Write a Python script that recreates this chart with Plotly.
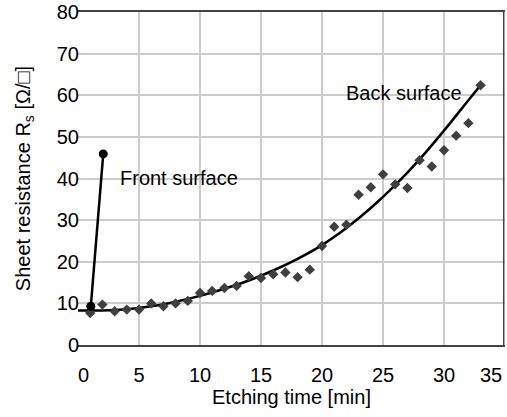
import plotly.graph_objects as go

# Back surface measurements
back_x = [1, 2, 3, 4, 5, 6, 7, 8, 9, 10, 11, 12, 13, 14, 15, 16, 17, 18, 19, 20,
          21, 22, 23, 24, 25, 26, 27, 28, 29, 30, 31, 32, 33]
back_y = [7.7, 9.7, 8.1, 8.5, 8.5, 10.0, 9.3, 10.0, 10.6, 12.5, 13.0, 13.7, 14.2, 16.5,
          16.1, 17.0, 17.4, 16.3, 18.1, 23.8, 28.4, 28.9, 36.1, 37.9, 41.0, 38.6, 37.7,
          44.4, 42.9, 46.8, 50.3, 53.3, 62.4]

# Fitted trend curve for back surface
fit_x = [0, 2, 4, 6, 8, 10, 12, 14, 16, 18, 20, 22, 24, 26, 28, 30, 32, 33.1]
fit_y = [8.3, 8.3, 8.6, 9.3, 10.4, 11.8, 13.5, 15.5, 17.9, 20.7, 24.0, 28.1, 32.9,
         38.4, 44.6, 51.5, 58.8, 62.8]

# Front surface
front_x = [1.05, 2.07]
front_y = [9.3, 45.9]

x_ticks = [0, 5, 10, 15, 20, 25, 30, 35]
x_ticktext = ["\u00a0\u00a00", "5", "10", "15", "20", "25", "30", "35\u00a0\u00a0\u00a0\u00a0\u00a0"]
y_ticks = [0, 10, 20, 30, 40, 50, 60, 70, 80]

FONT = "Liberation Sans, Arial, sans-serif"

fig = go.Figure()
fig.add_trace(go.Scatter(x=fit_x, y=fit_y, mode="lines",
                         line=dict(color="black", width=2.5, shape="spline", smoothing=0.8),
                         showlegend=False, hoverinfo="skip"))
fig.add_trace(go.Scatter(x=back_x, y=back_y, mode="markers",
                         marker=dict(symbol="diamond", size=8, color="#3f3f3f", line=dict(width=0)),
                         showlegend=False))
fig.add_trace(go.Scatter(x=front_x, y=front_y, mode="lines+markers",
                         line=dict(color="black", width=2.5),
                         marker=dict(symbol="circle", size=9, color="black"),
                         showlegend=False))

fig.update_layout(
    template="none",
    width=507, height=417,
    margin=dict(l=78, r=2, t=12, b=72),
    paper_bgcolor="white", plot_bgcolor="white",
    font=dict(family=FONT, size=20, color="black"),
    showlegend=False,
    xaxis=dict(range=[0, 35], tickvals=x_ticks, ticktext=x_ticktext,
               showgrid=True, gridcolor="#cccccc", gridwidth=1.5,
               zeroline=False, showline=True, linecolor="#444444", linewidth=1.5,
               mirror=True, ticks="", ticklabelstandoff=11, automargin=False,
               ticklabeloverflow="allow",
               title=dict(text="Etching time [min]", standoff=2,
                          font=dict(size=20, family=FONT))),
    yaxis=dict(range=[0, 80], tickvals=y_ticks,
               showgrid=True, gridcolor="#cccccc", gridwidth=1.5,
               zeroline=False, showline=False, ticks="", automargin=False,
               ticklabelstandoff=-2, ticklabeloverflow="allow",
               title=dict(text="Sheet resistance R<sub>s</sub> [Ω/□]", standoff=20,
                          font=dict(size=20, family=FONT))),
    shapes=[dict(type="line", xref="paper", yref="paper", x0=0.997, x1=0.997, y0=0, y1=1,
                 line=dict(color="#444444", width=1.5))],
    annotations=[
        dict(x=3.27, y=40.2, xref="x", yref="y", text="Front surface", showarrow=False,
             xanchor="left", yanchor="middle", font=dict(size=20, family=FONT, color="black")),
        dict(x=31.6, y=60.5, xref="x", yref="y", text="Back surface", showarrow=False,
             xanchor="right", yanchor="middle", font=dict(size=20, family=FONT, color="black")),
    ],
)

fig.write_html("out.html", config={"displayModeBar": False},
               post_script="document.body.style.margin='0';document.body.style.overflow='hidden';")
